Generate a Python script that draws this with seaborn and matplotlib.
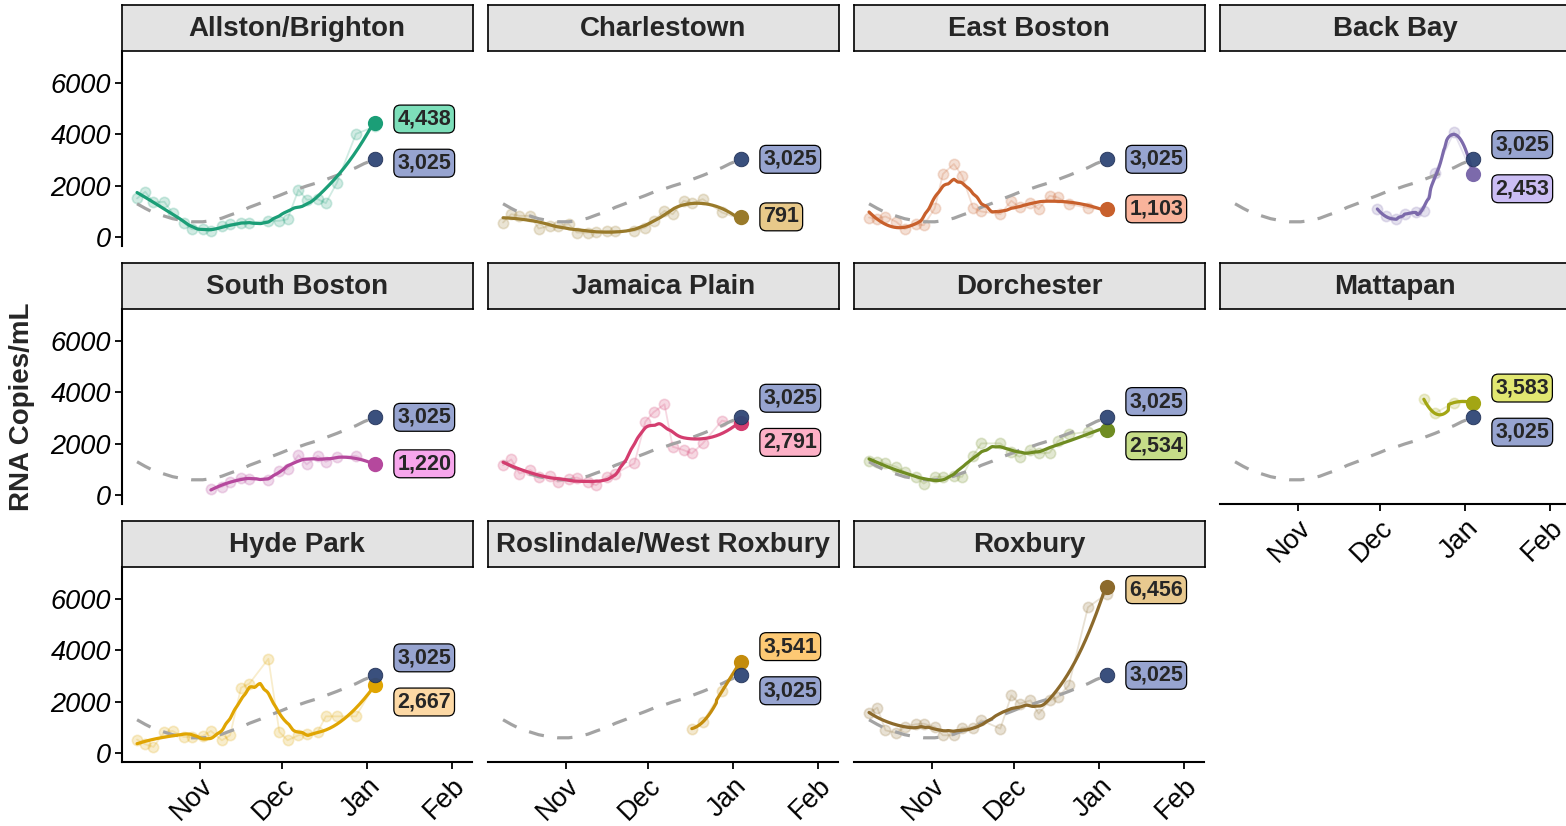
import numpy as np
import pandas as pd
import matplotlib
matplotlib.use("Agg")
import matplotlib.pyplot as plt
import seaborn as sns

nan = np.nan

# sampling dates (twice weekly)
dates = ["2020-10-09", "2020-10-12", "2020-10-15", "2020-10-19", "2020-10-22", "2020-10-26",
         "2020-10-29", "2020-11-02", "2020-11-05", "2020-11-09", "2020-11-12", "2020-11-16",
         "2020-11-19", "2020-11-23", "2020-11-26", "2020-11-30", "2020-12-03", "2020-12-07",
         "2020-12-10", "2020-12-14", "2020-12-17", "2020-12-21", "2020-12-24", "2020-12-28",
         "2020-12-31", "2021-01-04"]

# raw RNA copies/mL per neighborhood
allston = [1507, 1766, 1350, 1377, 922, 571, 312, 312, 247, 442, 506, 571, 571, nan,
           636, 636, 701, 1844, 1455, 1480, 1325, 2104, nan, 4012, nan, 4300]
charlestown = [571, 896, 831, 831, 338, 442, 442, 506, 182, 182, 208, 247, 247, nan,
               247, 377, 636, 1026, 896, 1415, 1325, 1480, nan, 961, nan, 700]
east_boston = [766, 727, 805, 597, 312, 506, 467, 1117, 2454, 2844, 2389, 1143, 1000, nan,
               896, 1415, 1156, 1325, 1091, 1610, 1545, 1286, nan, 1143, nan, 1050]
back_bay = [nan, nan, nan, nan, nan, nan, nan, nan, nan, nan, nan, nan, nan, nan,
            nan, 1091, 831, 701, 896, 961, 1026, 2493, nan, 4078, nan, 2400]
south_boston = [nan, nan, nan, nan, nan, nan, nan, nan, 234, 325, 519, 688, 623, nan,
                584, 948, 1013, 1558, 1195, 1532, 1299, 1493, nan, 1532, nan, 1150]
jamaica_plain = [1169, 1390, 844, 974, 714, 740, 519, 623, 688, 519, 390, 714, 844, nan,
                 1234, 2857, 3220, 3532, 1883, 1753, 1623, 2013, nan, 2896, nan, 2750]
dorchester = [1325, 1273, 1234, 1104, 909, 714, 454, 714, 714, 753, 714, 1532, 2013, nan,
              2013, 1662, 1493, 1753, 1623, 1650, 2100, 2364, nan, 2467, nan, 2550]
mattapan = [nan, nan, nan, nan, nan, nan, nan, nan, nan, nan, nan, nan, nan, nan,
            nan, nan, nan, nan, nan, nan, 3727, 3182, nan, 3597, nan, 3583]
hyde_park = [530, 348, 245, 826, 865, 632, 632, 671, 865, 503, 697, 2543, 2698, nan,
             3666, 826, 503, 697, 761, 826, 1432, 1432, nan, 1432, nan, 2700]
roslindale = [nan, nan, nan, nan, nan, nan, nan, nan, nan, nan, nan, nan, nan, nan,
              nan, nan, nan, nan, nan, nan, 955, 1213, nan, 2400, nan, 3600]
roxbury = [1561, 1768, 890, 787, 1019, 1123, 1148, 1019, 697, 697, 994, 994, 1278, nan,
           955, 2245, 1923, 2052, 1536, 2052, 2181, 2633, nan, 5665, nan, 6200]

# citywide trend
city = [1300, 1120, 960, 820, 720, 640, 600, 600, 640, 740, 860, 1010, 1160, 1320,
        1460, 1620, 1750, 1880, 1990, 2120, 2240, 2400, 2530, 2700, 2860, 3025]
city_latest = 3025

names = ["Allston/Brighton", "Charlestown", "East Boston", "Back Bay",
         "South Boston", "Jamaica Plain", "Dorchester", "Mattapan",
         "Hyde Park", "Roslindale/West Roxbury", "Roxbury"]
series = [allston, charlestown, east_boston, back_bay, south_boston, jamaica_plain,
          dorchester, mattapan, hyde_park, roslindale, roxbury]
latest = [4438, 791, 1103, 2453, 1220, 2791, 2534, 3583, 2667, 3541, 6456]

line_colors = ["#1b9e77", "#997a2a", "#c8602c", "#7c6aab", "#b5489d", "#d43d6f",
               "#6f8c22", "#a3a614", "#e0a502", "#c48c0c", "#8c6a2c"]
label_fills = ["#7ddfba", "#e8c98a", "#f9b39b", "#cbbdf4", "#f7a6ec", "#fdb1c7",
               "#c6dd88", "#e1e771", "#fdd9a5", "#fdc974", "#e8c98f"]
city_color = "#2f4676"
city_fill = "#97a4d0"


def loess(x, y, xs, span=0.5):
    n = len(x)
    k = min(n, max(int(np.ceil(span * n)), 4))
    fit = []
    for x0 in xs:
        d = np.abs(x - x0)
        h = np.sort(d)[k - 1] * 1.001
        w = np.clip(1 - (d / h) ** 3, 0, None) ** 3
        use = w > 0
        deg = 2 if use.sum() >= 3 else 1
        c = np.polyfit(x[use] - x0, y[use], deg, w=np.sqrt(w[use]))
        fit.append(c[-1])
    return np.array(fit)


sns.set_theme(style="white")
plt.rcParams['font.family'] = ['Liberation Sans', 'DejaVu Sans']

W, H = 1566, 826
fig = plt.figure(figsize=(W / 100, H / 100), dpi=100)

col_left = [122, 488, 854, 1220]
strip_top = [5, 263, 521]
panel_w, strip_h, panel_h = 350.5, 46, 195

t = pd.to_datetime(dates)
origin = pd.Timestamp("2020-11-01")
xmin = origin - pd.Timedelta(days=28.5)
xmax = origin + pd.Timedelta(days=99.6)
month_ticks = pd.to_datetime(["2020-11-01", "2020-12-01", "2021-01-01", "2021-02-01"])
city_df = pd.DataFrame({"date": t, "value": city})
sep = 1714
ytop = 6350

for i, name in enumerate(names):
    r, c = divmod(i, 4)
    L = col_left[c]
    top = strip_top[r]
    ax = fig.add_axes([L / W, 1 - (top + strip_h + panel_h) / H, panel_w / W, panel_h / H])
    sax = fig.add_axes([L / W, 1 - (top + strip_h) / H, panel_w / W, strip_h / H])
    sax.set_facecolor("#e3e3e3")
    sax.set_xticks([])
    sax.set_yticks([])
    for s in sax.spines.values():
        s.set_color("black")
        s.set_linewidth(1.2)
    sax.text(0.5, 0.48, name, ha="center", va="center", fontweight="bold", fontsize=20)

    col = line_colors[i]
    df = pd.DataFrame({"date": t, "value": series[i]}).dropna()
    days = (df["date"] - origin).dt.days.to_numpy().astype(float)
    grid = np.linspace(days.min(), days.max(), 200)
    smooth = pd.DataFrame({"date": origin + pd.to_timedelta(grid, unit="D"),
                           "value": loess(days, df["value"].to_numpy(float), grid)})

    sns.lineplot(data=df, x="date", y="value", ax=ax, color=col, alpha=0.2, lw=1.3)
    sns.scatterplot(data=df, x="date", y="value", ax=ax, color=col, alpha=0.2, s=55,
                    edgecolor=col, linewidth=1.2)
    sns.lineplot(data=city_df, x="date", y="value", ax=ax, color="#a3a3a3", lw=2.3,
                 linestyle=(0, (4.8, 4.2)))
    sns.lineplot(data=smooth, x="date", y="value", ax=ax, color=col, lw=2.3)

    end = pd.DataFrame({"date": [t[-1]], "value": [latest[i]]})
    cend = pd.DataFrame({"date": [t[-1]], "value": [city_latest]})
    sns.scatterplot(data=end, x="date", y="value", ax=ax, color=col, s=120, linewidth=0, zorder=5)
    sns.scatterplot(data=cend, x="date", y="value", ax=ax, color=city_color, s=110,
                    edgecolor="#1f2f55", linewidth=0.6, alpha=0.95, zorder=6)

    # keep the two labels apart and inside the panel
    a, b = latest[i], city_latest
    ya, yb = a, b
    if abs(a - b) < sep:
        mid = (a + b) / 2
        ya = mid + sep / 2 if a >= b else mid - sep / 2
        yb = mid - sep / 2 if a >= b else mid + sep / 2
    ya, yb = min(ya, ytop), min(yb, ytop)
    for val, yy, fill in [(a, ya, label_fills[i]), (b, yb, city_fill)]:
        ax.annotate(f"{val:,}", xy=(t[-1], yy), xytext=(16, 0), textcoords="offset points",
                    ha="left", va="center", fontweight="bold", fontsize=15.5,
                    bbox=dict(boxstyle="round,pad=0.16,rounding_size=0.3", fc=fill,
                              ec="black", lw=0.9),
                    annotation_clip=False, zorder=7)

    ax.set_xlim(xmin, xmax)
    ax.set_ylim(-340, 7230)
    ax.set_xlabel("")
    ax.set_ylabel("")
    ax.set_facecolor("white")
    for s in ["top", "right"]:
        ax.spines[s].set_visible(False)
    show_left = c == 0
    show_bottom = r == 2 or name == "Mattapan"
    ax.spines["left"].set_visible(show_left)
    ax.spines["bottom"].set_visible(show_bottom)
    for s in ["left", "bottom"]:
        ax.spines[s].set_color("black")
        ax.spines[s].set_linewidth(1.5)

    ax.set_yticks([0, 2000, 4000, 6000])
    ax.set_xticks(month_ticks)
    if show_left:
        ax.set_yticklabels(["0", "2000", "4000", "6000"], fontstyle="italic")
        ax.tick_params(axis="y", left=True, length=5, width=1.3, labelsize=19.5, pad=3,
                       colors="black")
    else:
        ax.tick_params(axis="y", left=False, labelleft=False)
    if show_bottom:
        ax.set_xticklabels(["Nov", "Dec", "Jan", "Feb"])
        ax.tick_params(axis="x", bottom=True, length=5, width=1.3, labelsize=19.5, pad=3,
                       colors="black")
        for lab in ax.get_xticklabels():
            lab.set_rotation(45)
            lab.set_ha("right")
            lab.set_va("top")
            lab.set_rotation_mode("anchor")
    else:
        ax.tick_params(axis="x", bottom=False, labelbottom=False)
    ax.grid(False)

fig.text(22 / W, 1 - 407 / H, "RNA Copies/mL", rotation=90, ha="center", va="center",
         fontweight="bold", fontsize=20)

fig.savefig("out.png", dpi=100)
